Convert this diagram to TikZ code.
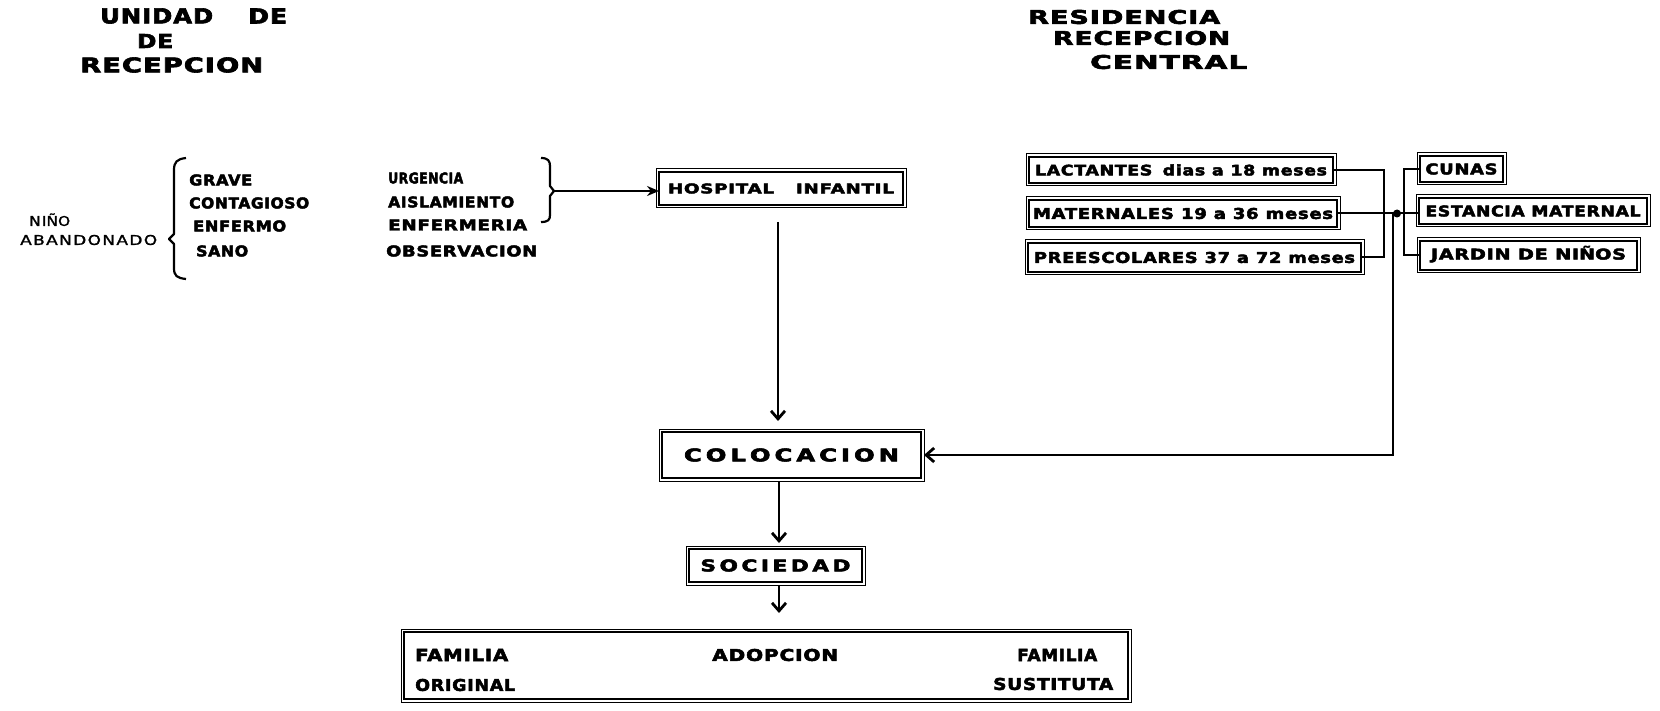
\documentclass[tikz,border=0pt]{standalone}
\usepackage{fontspec}
\usepackage{graphicx}
\usetikzlibrary{arrows.meta,calc}
\setmainfont{DejaVu Sans}
\newfontfamily\heavy{DejaVu Sans}[LetterSpace=4,BoldFeatures={FakeBold=3}]
\newfontfamily\lightf{DejaVu Sans}[LetterSpace=8,UprightFeatures={FakeBold=1.5}]
% text fitted to a given width and cap height (in pt)
\newcommand\T[3]{\resizebox{#1pt}{#2pt}{\heavy\bfseries #3}}
\newcommand\Tl[3]{\resizebox{#1pt}{#2pt}{\lightf #3}}
% framed box: thick frame with a thin outer frame
\newcommand\frbox[6]{%
  \node[fbox, minimum width=#4pt, minimum height=#5pt] (#1) at (#2,#3) {#6};
  \draw[thinframe] ([shift={(-3pt,3pt)}]#1.north west) rectangle ([shift={(3pt,-3pt)}]#1.south east);}
\begin{document}
\begin{tikzpicture}[x=1pt,y=-1pt,
  txt/.style={inner sep=0pt, anchor=west},
  fbox/.style={draw, line width=2.8pt, inner sep=0pt, outer sep=0pt},
  thinframe/.style={line width=1pt},
  conn/.style={line width=2pt},
  arr/.style={conn, -{Straight Barb[length=8pt,width=14pt,line width=2.8pt]}},
  tri/.style={conn, -{Stealth[length=12pt,width=10pt]}},
  brace/.style={line width=2.2pt, line join=round}]
\useasboundingbox (0,0) rectangle (1660,711);

% titles
\node[txt] (u1) at (100,16) {\T{113}{15}{UNIDAD}};
\node[txt] (u2) at (248,16) {\T{39}{15}{DE}};
\node[txt] (u3) at (137,41) {\T{36}{14}{DE}};
\node[txt] (u4) at (80,65) {\T{183}{15}{RECEPCION}};
\node[txt] (r1) at (1028,17) {\T{192}{14}{RESIDENCIA}};
\node[txt] (r2) at (1053,38) {\T{177}{14}{RECEPCION}};
\node[txt] (r3) at (1090,62) {\T{157}{14}{CENTRAL}};

% reception unit: child and classification
\node[txt] (nino) at (29,221) {\Tl{41}{10}{NI\smash{Ñ}O}};
\node[txt] (aband) at (20,240) {\Tl{137}{10}{ABANDONADO}};
\node[txt] (c1) at (189,180) {\T{63}{11}{GRAVE}};
\node[txt] (c2) at (189,203) {\T{120}{11}{CONTAGIOSO}};
\node[txt] (c3) at (193,226) {\T{93}{11}{ENFERMO}};
\node[txt] (c4) at (196,251) {\T{52}{11}{SANO}};
\node[txt] (s1) at (388,178) {\T{75}{11}{URGENCIA}};
\node[txt] (s2) at (388,202) {\T{126}{11}{AISLAMIENTO}};
\node[txt] (s3) at (388,225) {\T{139}{11}{ENFERMERIA}};
\node[txt] (s4) at (386,251) {\T{151}{11}{OBSERVACION}};

% braces
\draw[brace] (186,158) .. controls (177,159) and (174,162) .. (174,170) -- (174,234)
  -- (169,239) -- (174,244) -- (174,268) .. controls (174,276) and (177,278) .. (186,279);
\draw[brace] (541,158) .. controls (548,158) and (550,161) .. (550,166) -- (550,186)
  -- (554,191) -- (550,196) -- (550,215) .. controls (550,220) and (548,222) .. (541,222);
\coordinate (rb) at (554,191);

% main column
\frbox{hosp}{781}{188.5}{244}{33}{\T{226}{10}{HOSPITAL\hspace{1.2em}INFANTIL}}
\frbox{coloc}{791.5}{455}{259}{46}{\T{215}{13}{C\,O\,L\,O\,C\,A\,C\,I\,O\,N}}
\frbox{soc}{775.5}{565.5}{173}{33}{\T{150}{12}{S\,O\,C\,I\,E\,D\,A\,D}}
\frbox{fam}{766}{665.5}{724}{67}{}
\node[txt] (f1) at (415,655) {\T{93}{12}{FAMILIA}};
\node[txt] (f2) at (415,685) {\T{100}{12}{ORIGINAL}};
\node[txt] (f3) at (712,655) {\T{126}{12}{ADOPCION}};
\node[txt] (f4) at (1017,655) {\T{80}{12}{FAMILIA}};
\node[txt] (f5) at (993,684) {\T{120}{12}{SUSTITUTA}};

% central residence
\frbox{lact}{1181}{170}{304}{26}{\T{292}{11}{LACTANTES\hspace{0.6em}dias a 18 meses}}
\frbox{mat}{1183}{213.5}{308}{27}{\T{300}{11}{MATERNALES\hspace{0.4em}19 a 36 meses}}
\frbox{pre}{1194.5}{257.5}{333}{29}{\T{321}{11}{PREESCOLARES 37 a 72 meses}}
\frbox{cunas}{1461.5}{169}{83}{26}{\T{72}{11}{CUNAS}}
\frbox{est}{1533}{211}{228}{26}{\T{215}{11}{ESTANCIA MATERNAL}}
\frbox{jar}{1528.5}{255.5}{217}{29}{\T{195}{11}{JARDIN DE NI\smash{Ñ}OS}}

% connectors
\draw[tri] (rb) -- (rb -| hosp.west);
\coordinate (h1) at (778,222);
\draw[arr, shorten >=11pt] (h1) -- (h1 |- coloc.north);
\coordinate (k1) at (779,481);
\draw[arr, shorten >=6pt] (k1) -- (k1 |- soc.north);
\coordinate (k2) at (779,585);
\draw[arr, shorten >=19pt] (k2) -- (k2 |- fam.north);

\coordinate (j) at (1397,213.5);
\coordinate (j2) at (1393,213.5);
\draw[conn] (lact.east) -- ++(51,0) |- (pre.east);
\draw[conn] (mat.east) -- (j);
\draw[conn] (cunas.west) -- ++(-16,0) |- (jar.west);
\draw[conn] (j) -- (j -| est.west);
\fill (j) circle (4pt);
\draw[arr, shorten >=3pt] (j2) |- (coloc.east);
\end{tikzpicture}
\end{document}
